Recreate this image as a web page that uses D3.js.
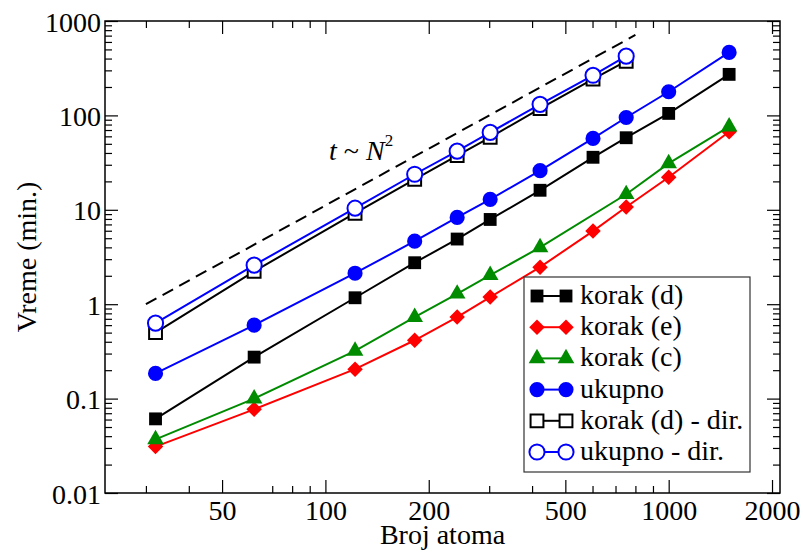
<!DOCTYPE html>
<html lang="sr">
<head>
<meta charset="UTF-8">
<title>Vreme izvrsavanja</title>
<script src="https://cdn.jsdelivr.net/npm/d3@7"></script>
<style>
  body { margin: 0; background: #fff; }
  text { font-family: "Liberation Serif", "DejaVu Serif", serif; fill: #000; }
</style>
</head>
<body>
<script>
// podaci ocitani sa slike
var atoms = [32, 62, 122, 182, 242, 302, 422, 602, 752, 1000, 1500];
var atomsC = [32, 62, 122, 182, 242, 302, 422, 752, 1000, 1500];
var atomsDir = [32, 62, 122, 182, 242, 302, 422, 602, 752];

var korakD = [0.061, 0.275, 1.17, 2.75, 4.9, 7.9, 16.1, 36, 58, 105, 272];
var korakE = [0.031, 0.077, 0.205, 0.415, 0.73, 1.19, 2.47, 5.95, 10.7, 22.1, 67];
var korakC = [0.037, 0.1, 0.32, 0.73, 1.29, 2.03, 4.0, 14.6, 31, 76];
var ukupno = [0.185, 0.6, 2.13, 4.65, 8.3, 12.9, 26, 57, 95, 178, 465];
var korakDDir = [0.5, 2.23, 9.2, 21, 37.5, 58.5, 118, 242, 375];
var ukupnoDir = [0.63, 2.59, 10.4, 23.8, 41.8, 66, 131, 266, 424];

var legendNames = ["korak (d)", "korak (e)", "korak (c)", "ukupno", "korak (d) - dir.", "ukupno - dir."];

var xMajor = [50, 100, 200, 500, 1000, 2000];
var xMinor = [30, 40, 70, 80, 90, 300, 400, 600, 700, 800, 900];
var yMajor = [0.01, 0.1, 1, 10, 100, 1000];
var yMinor = [];
[0.01, 0.1, 1, 10, 100].forEach(function (d) {
  for (var k = 2; k < 10; k++) yMinor.push(d * k);
});

var W = 803, H = 552;
var pL = 105, pR = 780, pT = 21, pB = 493;

var svg = d3.select("body").append("svg").attr("width", W).attr("height", H);

var x = d3.scaleLog().domain([22.8, 2110]).range([pL, pR]);
var y = d3.scaleLog().domain([0.01, 1000]).range([pB, pT]);

// ose i podeoci (svi ka unutra)
function axisStyle(g) {
  g.select(".domain").remove();
  g.selectAll("line").attr("stroke", "#000").attr("stroke-width", 1.2);
  g.selectAll("text").style("font-size", "28px").style("font-family", "'Liberation Serif', serif");
}

svg.append("g").attr("transform", "translate(0," + pB + ")")
  .call(d3.axisBottom(x).tickValues(xMajor).tickSize(-13).tickFormat(d3.format("d")))
  .call(axisStyle)
  .selectAll("text").attr("dy", "0.71em").attr("y", 7);
svg.append("g").attr("transform", "translate(0," + pB + ")")
  .call(d3.axisBottom(x).tickValues(xMinor).tickSize(-7).tickFormat(""))
  .call(axisStyle);
svg.append("g").attr("transform", "translate(0," + pT + ")")
  .call(d3.axisTop(x).tickValues(xMajor).tickSize(-13).tickFormat(""))
  .call(axisStyle);
svg.append("g").attr("transform", "translate(0," + pT + ")")
  .call(d3.axisTop(x).tickValues(xMinor).tickSize(-7).tickFormat(""))
  .call(axisStyle);

svg.append("g").attr("transform", "translate(" + pL + ",0)")
  .call(d3.axisLeft(y).tickValues(yMajor).tickSize(-13).tickFormat(function (d) { return d >= 1 ? d3.format("d")(d) : String(d); }))
  .call(axisStyle)
  .selectAll("text").attr("x", -4).attr("dy", "0.36em");
svg.append("g").attr("transform", "translate(" + pL + ",0)")
  .call(d3.axisLeft(y).tickValues(yMinor).tickSize(-7).tickFormat(""))
  .call(axisStyle);
svg.append("g").attr("transform", "translate(" + pR + ",0)")
  .call(d3.axisRight(y).tickValues(yMajor).tickSize(-13).tickFormat(""))
  .call(axisStyle);
svg.append("g").attr("transform", "translate(" + pR + ",0)")
  .call(d3.axisRight(y).tickValues(yMinor).tickSize(-7).tickFormat(""))
  .call(axisStyle);

svg.append("rect").attr("x", pL).attr("y", pT)
  .attr("width", pR - pL).attr("height", pB - pT)
  .attr("fill", "none").attr("stroke", "#000").attr("stroke-width", 1.5);

// t ~ N^2 referentna linija
var refN = [30, 800];
svg.append("line")
  .attr("x1", x(refN[0])).attr("y1", y(Math.pow(refN[0] / 30, 2)))
  .attr("x2", x(refN[1])).attr("y2", y(Math.pow(refN[1] / 30, 2)))
  .attr("stroke", "#000").attr("stroke-width", 2).attr("stroke-dasharray", "12,7");

var ann = svg.append("text").attr("x", 329).attr("y", 160).style("font-size", "28px");
ann.append("tspan").style("font-style", "italic").text("t");
ann.append("tspan").text(" ~ ");
ann.append("tspan").style("font-style", "italic").text("N");
ann.append("tspan").attr("dy", -14).style("font-size", "17px").text("2");

// serije
var series = [
  { xs: atoms, ys: korakD, color: "#000", shape: "square", fill: true },
  { xs: atoms, ys: korakE, color: "#ff0000", shape: "diamond", fill: true },
  { xs: atomsC, ys: korakC, color: "#008b00", shape: "triangle", fill: true },
  { xs: atoms, ys: ukupno, color: "#0000ff", shape: "circle", fill: true },
  { xs: atomsDir, ys: korakDDir, color: "#000", shape: "square", fill: false },
  { xs: atomsDir, ys: ukupnoDir, color: "#0000ff", shape: "circle", fill: false }
];

function symbolPath(shape) {
  if (shape === "square") return d3.symbol().type(d3.symbolSquare).size(165)();
  if (shape === "diamond") return d3.symbol().type(d3.symbolSquare).size(120)();
  if (shape === "triangle") return d3.symbol().type(d3.symbolTriangle).size(120)();
  return d3.symbol().type(d3.symbolCircle).size(180)();
}

function drawMarker(g, s, px, py) {
  var p = g.append("path").attr("d", symbolPath(s.shape))
    .attr("transform", "translate(" + px + "," + py + ")" + (s.shape === "diamond" ? " rotate(45)" : ""));
  if (s.fill) {
    p.attr("fill", s.color).attr("stroke", "none");
  } else {
    p.attr("fill", "#fff").attr("stroke", s.color).attr("stroke-width", 2);
  }
}

var line = d3.line().x(function (d) { return x(d[0]); }).y(function (d) { return y(d[1]); });

series.forEach(function (s) {
  var pts = s.xs.map(function (v, i) { return [v, s.ys[i]]; });
  var g = svg.append("g");
  g.append("path").datum(pts).attr("d", line)
    .attr("fill", "none").attr("stroke", s.color).attr("stroke-width", 2);
  pts.forEach(function (p) { drawMarker(g, s, x(p[0]), y(p[1])); });
});

// legenda
var lg = svg.append("g");
lg.append("rect").attr("x", 524).attr("y", 277).attr("width", 226).attr("height", 195)
  .attr("fill", "#fff").attr("stroke", "#333").attr("stroke-width", 1.2);
series.forEach(function (s, i) {
  var cy = 296 + i * 31.2;
  lg.append("line").attr("x1", 537).attr("x2", 566).attr("y1", cy).attr("y2", cy)
    .attr("stroke", s.color).attr("stroke-width", 2);
  drawMarker(lg, s, 537, cy);
  drawMarker(lg, s, 566, cy);
  lg.append("text").attr("x", 580).attr("y", cy + 8).style("font-size", "28px").text(legendNames[i]);
});

// naslovi osa
svg.append("text").attr("x", (pL + pR) / 2).attr("y", 544)
  .attr("text-anchor", "middle").style("font-size", "28px").text("Broj atoma");
svg.append("text").attr("transform", "translate(36," + (pT + pB) / 2 + ") rotate(-90)")
  .attr("text-anchor", "middle").style("font-size", "28px").text("Vreme (min.)");
</script>
</body>
</html>
